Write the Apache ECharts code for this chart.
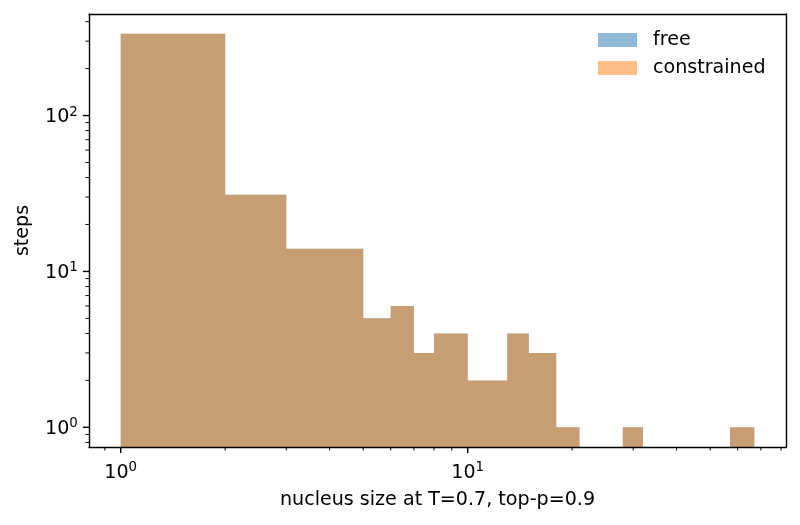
<!DOCTYPE html>
<html><head><meta charset="utf-8">
<script src="https://cdn.jsdelivr.net/npm/echarts@6/dist/echarts.min.js"></script>
<style>html,body{margin:0;padding:0;background:#fff}#c{width:800px;height:525px}</style>
</head><body><div id="c"></div>
<script>
// ---- data ----
const binEdges = [1, 2, 3, 5, 6, 7, 8, 10, 13, 15, 18, 21, 28, 32, 57, 67];
const freeCounts = [335, 31, 14, 5, 6, 3, 4, 2, 4, 3, 1, 0, 1, 0, 1];
const constrainedCounts = [335, 31, 14, 5, 6, 3, 4, 2, 4, 3, 1, 0, 1, 0, 1];
const seriesNames = ['free', 'constrained'];
const xMajorTicks = [1, 10];
const xMajorLabels = [['10', '0'], ['10', '1']];
const xMinorTicks = [0.9, 2, 3, 4, 5, 6, 7, 8, 9, 20, 30, 40, 50, 60, 70, 80];
const yMajorTicks = [1, 10, 100];
const yMajorLabels = [['10', '0'], ['10', '1'], ['10', '2']];
const yMinorTicks = [0.8, 0.9, 2, 3, 4, 5, 6, 7, 8, 9, 20, 30, 40, 50, 60, 70, 80, 90, 200, 300, 400];
const xLabel = 'nucleus size at T=0.7, top-p=0.9';
const yLabel = 'steps';
const xRange = [0.8102, 82.69];
const yRange = [0.7477, 448];

// ---- styling ----
const FONT = 'DejaVu Sans';
const FS = 19.1;
const MAJ = 6.1, MIN = 3.5, PAD = 6.1;
const colors = ['rgba(31,119,180,0.5)', 'rgba(255,127,14,0.5)'];

function binData(counts) {
  return counts.map((c, i) => [binEdges[i], binEdges[i + 1], c]);
}

function histItem(params, api) {
  if (params.dataIndexInside !== 0) return null;
  const cs = params.coordSys;
  const bottom = cs.y + cs.height;
  const n = params.dataInsideLength;
  const pts = [];
  for (let i = 0; i < n; i++) {
    const x0 = api.value(0, i), x1 = api.value(1, i), c = api.value(2, i);
    const a = api.coord([x0, c > 0 ? c : 1]);
    const b = api.coord([x1, c > 0 ? c : 1]);
    const y = c > 0 ? a[1] : bottom;
    if (i === 0) pts.push([a[0], bottom]);
    pts.push([a[0], y]);
    pts.push([b[0], y]);
    if (i === n - 1) pts.push([b[0], bottom]);
  }
  return {type: 'polygon', shape: {points: pts}, style: {fill: api.visual('color')}};
}

const rich = {
  b: {fontSize: FS, fontFamily: FONT, color: '#000', lineHeight: 24},
  s: {fontSize: 13.4, fontFamily: FONT, color: '#000', verticalAlign: 'top'}
};

function xTickItem(major) {
  return function (params, api) {
    const cs = params.coordSys;
    const bottom = cs.y + cs.height;
    const x = api.coord([api.value(0), 1])[0];
    const len = major ? MAJ : MIN;
    const children = [{type: 'line', shape: {x1: x, y1: bottom, x2: x, y2: bottom + len},
      style: {stroke: '#000', lineWidth: major ? 1.4 : 1.0}}];
    if (major) {
      const lab = xMajorLabels[params.dataIndex];
      children.push({type: 'text', style: {text: '{b|' + lab[0] + '}{s|' + lab[1] + '}', rich: rich,
        x: x, y: bottom + len + PAD + 2, align: 'center', verticalAlign: 'top'}});
    }
    return {type: 'group', children: children};
  };
}
function yTickItem(major) {
  return function (params, api) {
    const cs = params.coordSys;
    const left = cs.x;
    const y = api.coord([1, api.value(1)])[1];
    const len = major ? MAJ : MIN;
    const children = [{type: 'line', shape: {x1: left - len, y1: y, x2: left, y2: y},
      style: {stroke: '#000', lineWidth: major ? 1.4 : 1.0}}];
    if (major) {
      const lab = yMajorLabels[params.dataIndex];
      children.push({type: 'text', style: {text: '{b|' + lab[0] + '}{s|' + lab[1] + '}', rich: rich,
        x: left - len - PAD + 1, y: y + 2, align: 'right', verticalAlign: 'middle'}});
    }
    return {type: 'group', children: children};
  };
}

const frameLine = {show: true, lineStyle: {color: '#000', width: 1.4}};
const hidden = {axisLabel: {show: false}, axisTick: {show: false}, splitLine: {show: false}, minorTick: {show: false}};

const option = {
  animation: false,
  backgroundColor: '#fff',
  grid: {left: 89, right: 14, top: 14, bottom: 78, containLabel: false, outerBoundsMode: 'none'},
  legend: {
    data: seriesNames,
    orient: 'vertical',
    left: 593, top: 25,
    icon: 'rect',
    itemWidth: 39, itemHeight: 14, itemGap: 8,
    textStyle: {fontSize: FS, fontFamily: FONT, color: '#000', lineHeight: 20, padding: [0, 0, 0, 11]}
  },
  xAxis: [
    Object.assign({type: 'log', logBase: 10, min: xRange[0], max: xRange[1], position: 'bottom', z: 10,
      axisLine: frameLine, name: xLabel, nameLocation: 'middle', nameGap: 44,
      nameTextStyle: {fontSize: FS, fontFamily: FONT, color: '#000'}}, hidden),
    Object.assign({type: 'log', logBase: 10, min: xRange[0], max: xRange[1], position: 'top', z: 10,
      axisLine: frameLine}, hidden)
  ],
  yAxis: [
    Object.assign({type: 'log', logBase: 10, min: yRange[0], max: yRange[1], position: 'left', z: 10,
      axisLine: frameLine, name: yLabel, nameLocation: 'middle', nameGap: 56,
      nameTextStyle: {fontSize: FS, fontFamily: FONT, color: '#000'}}, hidden),
    Object.assign({type: 'log', logBase: 10, min: yRange[0], max: yRange[1], position: 'right', z: 10,
      axisLine: frameLine}, hidden)
  ],
  series: [
    {name: seriesNames[0], type: 'custom', renderItem: histItem, data: binData(freeCounts),
      encode: {x: [0, 1], y: 2}, itemStyle: {color: colors[0]}, z: 2},
    {name: seriesNames[1], type: 'custom', renderItem: histItem, data: binData(constrainedCounts),
      encode: {x: [0, 1], y: 2}, itemStyle: {color: colors[1]}, z: 3},
    {type: 'custom', renderItem: xTickItem(true), data: xMajorTicks.map(v => [v, 1]), encode: {x: 0, y: 1}, clip: false, z: 11, silent: true},
    {type: 'custom', renderItem: xTickItem(false), data: xMinorTicks.map(v => [v, 1]), encode: {x: 0, y: 1}, clip: false, z: 11, silent: true},
    {type: 'custom', renderItem: yTickItem(true), data: yMajorTicks.map(v => [1, v]), encode: {x: 0, y: 1}, clip: false, z: 11, silent: true},
    {type: 'custom', renderItem: yTickItem(false), data: yMinorTicks.map(v => [1, v]), encode: {x: 0, y: 1}, clip: false, z: 11, silent: true}
  ]
};
const chart = echarts.init(document.getElementById('c'), null, {renderer: 'canvas'});
chart.setOption(option);
</script></body></html>
